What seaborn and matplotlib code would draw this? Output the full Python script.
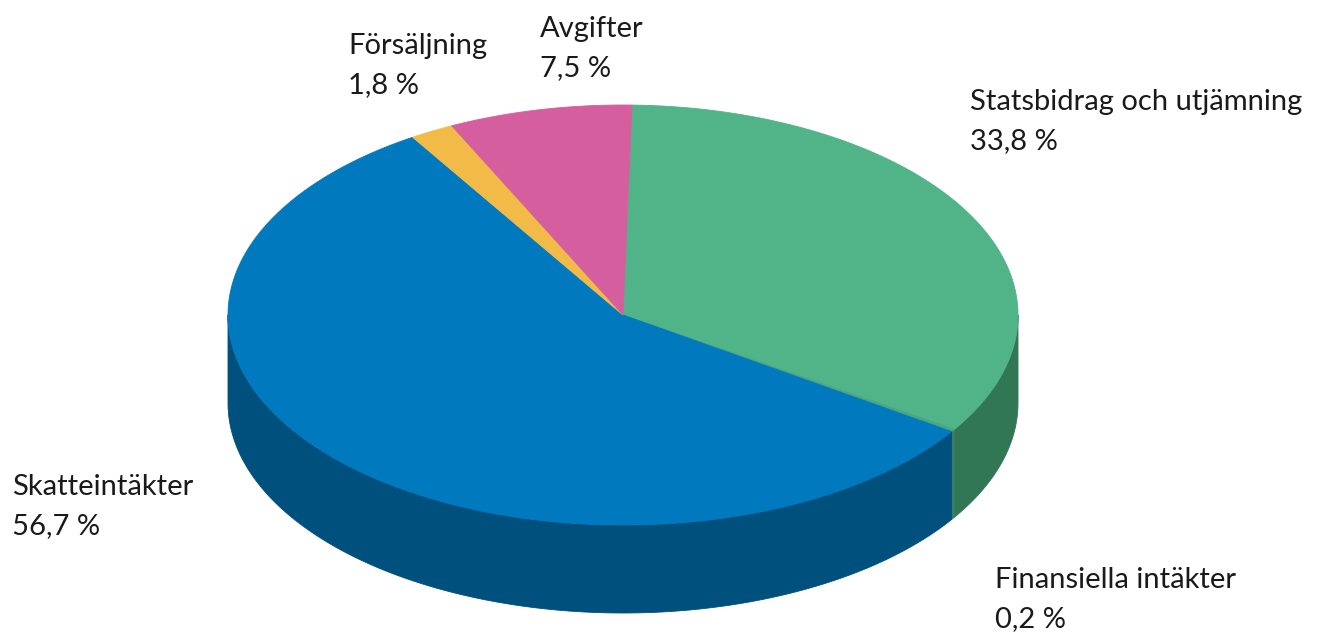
import matplotlib.pyplot as plt
import numpy as np
import seaborn as sns

# data
labels = ['Statsbidrag och utjämning', 'Finansiella intäkter', 'Skatteintäkter', 'Försäljning', 'Avgifter']
shares = [33.8, 0.2, 56.7, 1.8, 7.5]
top_colors = ['#50b488', '#4aa67c', '#0079bf', '#f2bb47', '#d55e9e']
side_colors = ['#317756', '#3a8060', '#00507e', '#b88a2c', '#9c4474']

sns.set_theme(style='white')
plt.rcParams['font.family'] = ['Lato', 'DejaVu Sans']

# pie geometry (pixel space)
cx, cy = 623, 315
a, b = 395, 210
depth = 88
start = 88.7

fig = plt.figure(figsize=(13.2, 6.32), dpi=100)
ax = fig.add_axes([0, 0, 1, 1])
ax.set_xlim(0, 1320)
ax.set_ylim(632, 0)
ax.axis('off')

total = sum(shares)
angles = [start]
for s in shares:
    angles.append(angles[-1] - s / total * 360)


def ell(t, dy=0):
    t = np.radians(t)
    return cx + a * np.cos(t), cy - b * np.sin(t) + dy


# sides (only the front half, angles between 180 and 360)
for i in range(len(shares)):
    t0, t1 = angles[i + 1], angles[i]
    for k in (-360, 0, 360):
        lo = max(t0 + k, 180)
        hi = min(t1 + k, 360)
        if hi <= lo:
            continue
        t = np.linspace(lo, hi, 200)
        xs, ys = ell(t)
        xb, yb = ell(t[::-1], depth)
        ax.fill(np.r_[xs, xb], np.r_[ys, yb], color=side_colors[i], lw=0.6,
                ec=side_colors[i], zorder=1)

# top face
for i in range(len(shares)):
    t = np.linspace(angles[i + 1], angles[i], 300)
    xs, ys = ell(t)
    ax.fill(np.r_[cx, xs], np.r_[cy, ys], color=top_colors[i], lw=0.6,
            ec=top_colors[i], zorder=2)

# labels
pos = {
    'Statsbidrag och utjämning': (970, 102),
    'Finansiella intäkter': (995, 580),
    'Skatteintäkter': (12, 487),
    'Försäljning': (348, 46),
    'Avgifter': (540, 29),
}
for lab, s in zip(labels, shares):
    x, y = pos[lab]
    ax.text(x, y, lab, fontsize=21, color='#1a1a1a', va='center', ha='left')
    ax.text(x, y + 39, f'{s:.1f} %'.replace('.', ','), fontsize=21, color='#1a1a1a',
            va='center', ha='left')

fig.savefig('out.png', dpi=100)
